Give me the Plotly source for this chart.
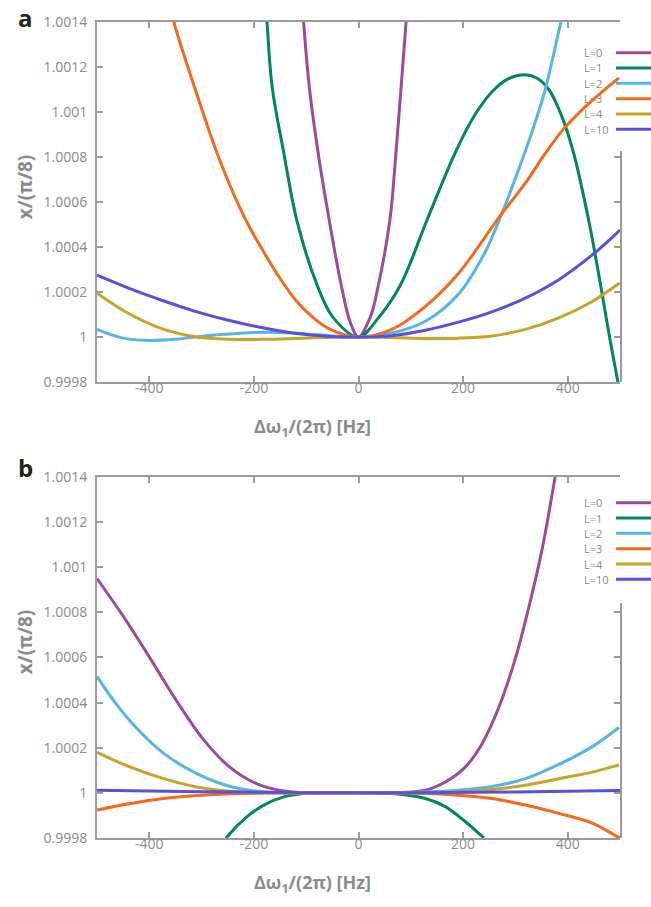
import plotly.graph_objects as go

# ---------------- data ----------------
labels = ["L=0", "L=1", "L=2", "L=3", "L=4", "L=10"]
colors = ["#9c4a9e", "#00875a", "#56b4e9", "#f26a1b", "#c9a227", "#5a50e0"]

# panel a
a_L0_x = [-112, -105, -94, -76, -56, -33, -15, 0, 22, 38, 60, 71, 91, 97]
a_L0_y = [1.00162, 1.0014, 1.00111, 1.00080, 1.00052, 1.00023, 1.00006, 1.0,
          1.000085, 1.00023, 1.00052, 1.00080, 1.0014, 1.00158]
a_L1_x = [-180, -175, -165, -143, -118, -79, -48, 0, 38, 80, 131, 185, 220, 255,
          287, 318, 340, 364, 388, 411, 440, 463, 480, 496, 502]
a_L1_y = [1.00155, 1.0014, 1.00111, 1.00082, 1.00052, 1.00023, 1.000085, 1.0,
          1.000085, 1.00023, 1.00052, 1.00082, 1.000978, 1.001089, 1.001148,
          1.001166, 1.001152, 1.0011, 1.000985, 1.00082, 1.00052, 1.00023, 1.0,
          0.9998, 0.99972]
a_L2_x = [-500, -450, -404, -350, -300, -250, -200, -150, -100, -50, 0, 64, 128,
          191, 242, 274, 306, 338, 357, 387, 395]
a_L2_y = [1.000034, 0.999995, 0.999985, 0.99999, 1.000003, 1.000013, 1.00002,
          1.00002, 1.000014, 1.000005, 1.0, 1.000018, 1.00007, 1.00019,
          1.000377, 1.000548, 1.000743, 1.000955, 1.0011, 1.0014, 1.00148]
a_L3_x = [-362, -353, -309, -277, -245, -213, -181, -150, -118, -86, -54, 0, 64,
          128, 191, 255, 274, 319, 357, 396, 447, 498]
a_L3_y = [1.0015, 1.0014, 1.001079, 1.000859, 1.000669, 1.000509, 1.000377,
          1.00026, 1.000158, 1.000085, 1.000034, 1.0, 1.000034, 1.000136,
          1.000282, 1.000487, 1.000548, 1.000684, 1.000816, 1.000935, 1.001052,
          1.001152]
a_L4_x = [-500, -436, -372, -309, -245, -181, -118, -60, 0, 64, 128, 191, 255,
          319, 383, 447, 494, 500]
a_L4_y = [1.000195, 1.0001, 1.000034, 1.0, 0.99999, 0.99999, 0.999994, 0.999998,
          1.0, 0.999998, 0.999994, 0.999995, 1.000005, 1.000034, 1.000085,
          1.000158, 1.000231, 1.00024]
a_L10_x = [-500, -436, -372, -309, -245, -181, -118, -60, 0, 64, 128, 191, 255,
           319, 383, 447, 494, 500]
a_L10_y = [1.000275, 1.000214, 1.00016, 1.000112, 1.000072, 1.00004, 1.000016,
           1.000004, 1.0, 1.000006, 1.00003, 1.000066, 1.000112, 1.000173,
           1.000255, 1.000365, 1.000462, 1.000476]

# panel b
b_L0_x = [-500, -449, -398, -347, -296, -245, -194, -143, -92, 0, 64, 128, 166,
          204, 236, 268, 300, 325, 351, 376, 385]
b_L0_y = [1.00095, 1.00078, 1.000595, 1.000405, 1.000235, 1.000112, 1.00004,
          1.000008, 1.0, 1.0, 1.0, 1.000012, 1.000048, 1.000114, 1.000217,
          1.000377, 1.000596, 1.000816, 1.001079, 1.0014, 1.00152]
b_L1_x = [-255, -249.5, -213, -181, -143, -105, -50, 0, 64, 128, 166, 204, 235, 240]
b_L1_y = [0.99979, 0.99981, 0.999895, 0.999946, 0.999982, 0.999997, 1.0, 1.0,
          0.999997, 0.999975, 0.999939, 0.999873, 0.99981, 0.9998]
b_L2_x = [-500, -462, -423.5, -372.5, -309, -245, -181, -100, 0, 100, 191, 255,
          319, 383, 447, 498]
b_L2_y = [1.000516, 1.00039, 1.000285, 1.000175, 1.000085, 1.000028, 1.000005,
          1.0, 1.0, 1.000002, 1.000012, 1.000028, 1.000063, 1.000126, 1.000205,
          1.00029]
b_L3_x = [-500, -436, -372.5, -309, -245, -181, -100, 0, 100, 191, 255, 319, 383,
          447, 488, 500]
b_L3_y = [0.999924, 0.999953, 0.999975, 0.999988, 0.999996, 0.999999, 1.0, 1.0,
          0.999999, 0.99999, 0.999975, 0.999946, 0.999909, 0.999866, 0.999815,
          0.9998]
b_L4_x = [-500, -436, -372.5, -309, -245, -181, 0, 191, 255, 319, 383, 447, 498]
b_L4_y = [1.00018, 1.000114, 1.000063, 1.000026, 1.000007, 1.000001, 1.0,
          1.000004, 1.000015, 1.000034, 1.000063, 1.000092, 1.000124]
b_L10_x = [-500, -300, -100, 0, 100, 300, 500]
b_L10_y = [1.000012, 1.000005, 1.000001, 1.0, 1.000001, 1.000004, 1.00001]

x_ticks = [-400, -200, 0, 200, 400]
x_ticktext = ["-400", "-200", "0", "200", "400"]
y_ticks = [0.9998, 1.0, 1.0002, 1.0004, 1.0006, 1.0008, 1.001, 1.0012, 1.0014]
y_ticktext = ["0.9998", "1", "1.0002", "1.0004", "1.0006", "1.0008", "1.001",
              "1.0012", "1.0014"]
x_range = [-500, 500]
y_range = [0.9998, 1.0014]

panel_a = [(a_L0_x, a_L0_y), (a_L1_x, a_L1_y), (a_L2_x, a_L2_y),
           (a_L3_x, a_L3_y), (a_L4_x, a_L4_y), (a_L10_x, a_L10_y)]
panel_b = [(b_L0_x, b_L0_y), (b_L1_x, b_L1_y), (b_L2_x, b_L2_y),
           (b_L3_x, b_L3_y), (b_L4_x, b_L4_y), (b_L10_x, b_L10_y)]

# ---------------- geometry (pixels) ----------------
W, H = 651, 907
ML, MR, MT, MB = 97, 31, 13, 69
PW = W - ML - MR          # plot width
PH = H - MT - MB          # total plot height
A_TOP, A_BOT = 13, 377
B_TOP, B_BOT = 473, 838


def py(px):
    """pixel row -> paper y"""
    return (H - MB - px) / PH


def pxx(px):
    """pixel column -> paper x"""
    return (px - ML) / PW


AXIS = "#9b9b9b"
TXT = "#8a8a8a"
FONT = "Open Sans"

fig = go.Figure()

line_style = dict(width=3, shape="spline", smoothing=1.0)
for (xs, ys), name, col in zip(panel_a, labels, colors):
    fig.add_trace(go.Scatter(x=xs, y=ys, mode="lines", name=name,
                             line=dict(color=col, **line_style),
                             xaxis="x", yaxis="y", showlegend=False))
for (xs, ys), name, col in zip(panel_b, labels, colors):
    fig.add_trace(go.Scatter(x=xs, y=ys, mode="lines", name=name,
                             line=dict(color=col, **line_style),
                             xaxis="x2", yaxis="y2", showlegend=False))

# empty traces carrying the partial right-hand frame axes
fig.add_trace(go.Scatter(x=[], y=[], xaxis="x", yaxis="y3", showlegend=False, hoverinfo="skip"))
fig.add_trace(go.Scatter(x=[], y=[], xaxis="x2", yaxis="y4", showlegend=False, hoverinfo="skip"))

tickfont = dict(family=FONT, size=14, color=TXT)
common_x = dict(range=x_range, tickvals=x_ticks, ticktext=x_ticktext,
                ticks="inside", ticklen=6,
                tickwidth=2, tickcolor=AXIS, showline=True, linecolor=AXIS,
                linewidth=2, mirror="ticks", showgrid=False, zeroline=False,
                tickfont=tickfont, ticklabelstandoff=-8)
common_y = dict(range=y_range, tickvals=y_ticks, ticktext=y_ticktext,
                ticks="inside", ticklen=6, tickwidth=2, tickcolor=AXIS,
                showline=True, linecolor=AXIS, linewidth=2, mirror=False,
                showgrid=False, zeroline=False, tickfont=tickfont,
                ticklabelstandoff=5)

a_dom = [py(A_BOT), py(A_TOP)]
b_dom = [py(B_BOT), py(B_TOP)]

# right frame segments start below the key
A_RIGHT_TOP = 143
B_RIGHT_TOP = 600
a_frac = (A_BOT - A_RIGHT_TOP) / (A_BOT - A_TOP)
b_frac = (B_BOT - B_RIGHT_TOP) / (B_BOT - B_TOP)
span = y_range[1] - y_range[0]

right_common = dict(side="right", ticks="inside", ticklen=6, tickwidth=2,
                    tickcolor=AXIS, showline=True, linecolor=AXIS, linewidth=2,
                    showticklabels=False, showgrid=False, zeroline=False,
                    tickvals=y_ticks)

fig.update_layout(
    width=W, height=H,
    margin=dict(l=ML, r=MR, t=MT, b=MB, pad=0),
    paper_bgcolor="white", plot_bgcolor="rgba(0,0,0,0)",
    showlegend=False,
    xaxis=dict(domain=[0, 1], anchor="y", **common_x),
    yaxis=dict(domain=a_dom, anchor="x", **common_y),
    xaxis2=dict(domain=[0, 1], anchor="y2", **common_x),
    yaxis2=dict(domain=b_dom, anchor="x2", **common_y),
    yaxis3=dict(domain=[a_dom[0], a_dom[0] + (a_dom[1] - a_dom[0]) * a_frac],
                range=[y_range[0], y_range[0] + span * a_frac], anchor="x",
                **right_common),
    yaxis4=dict(domain=[b_dom[0], b_dom[0] + (b_dom[1] - b_dom[0]) * b_frac],
                range=[y_range[0], y_range[0] + span * b_frac], anchor="x2",
                **right_common),
)

annotations = []
shapes = []

# axis titles and panel letters
for top, bot, letter, letter_mid in [(A_TOP, A_BOT, "a", 8), (B_TOP, B_BOT, "b", 463)]:
    annotations.append(dict(text="<b>Δω<sub>1</sub>/(2π) [Hz]</b>", xref="paper", yref="paper",
                            x=pxx(312), y=py(bot + 46), xanchor="center", yanchor="middle",
                            showarrow=False, font=dict(family=FONT, size=18, color=TXT)))
    annotations.append(dict(text="<b>x/(π/8)</b>", xref="paper", yref="paper",
                            x=pxx(25), y=py(top + 167), xanchor="center", yanchor="middle",
                            textangle=-90, showarrow=False,
                            font=dict(family=FONT, size=19, color=TXT)))
    annotations.append(dict(text="<b>%s</b>" % letter, xref="paper", yref="paper",
                            x=pxx(25), y=py(letter_mid),
                            xanchor="center", yanchor="middle", showarrow=False,
                            font=dict(family=FONT, size=24, color="#222222")))

# key: label on the left, line sample on the right
for first_row in (44, 499):
    for i, (name, col) in enumerate(zip(labels, colors)):
        yk = py(first_row + 15.5 * i)
        annotations.append(dict(text=name, xref="paper", yref="paper", x=pxx(582),
                                y=yk, xanchor="left", yanchor="middle", showarrow=False,
                                font=dict(family=FONT, size=11, color=TXT)))
        shapes.append(dict(type="line", xref="paper", yref="paper",
                           x0=pxx(616), x1=pxx(665), y0=yk, y1=yk,
                           line=dict(color=col, width=3)))

fig.update_layout(annotations=annotations, shapes=shapes)
fig.write_html("out.html")
